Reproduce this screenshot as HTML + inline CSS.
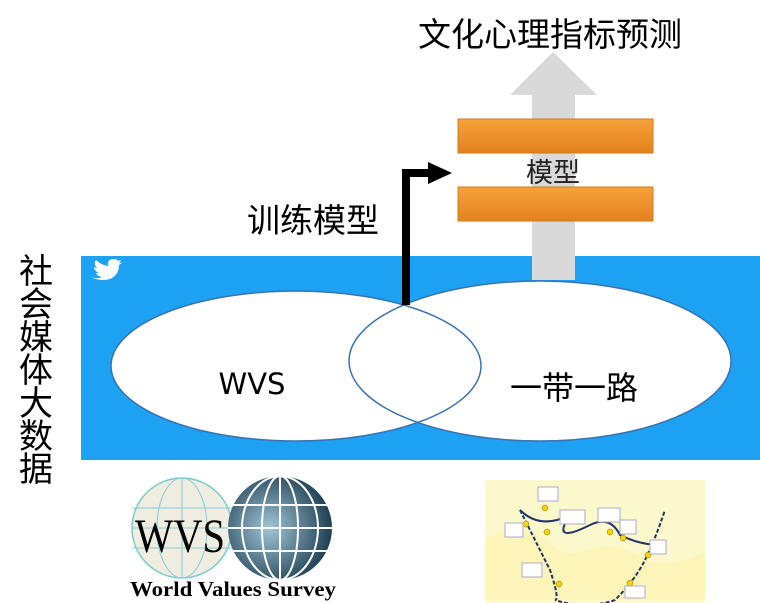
<!DOCTYPE html>
<html><head><meta charset="utf-8"><style>
body{margin:0;width:760px;height:603px;overflow:hidden;background:#fff;font-family:"Liberation Sans","Noto Sans CJK SC",sans-serif;}
</style></head><body>
<svg width="760" height="603" viewBox="0 0 760 603" xmlns="http://www.w3.org/2000/svg" style="position:absolute;left:0;top:0">
<defs>
<linearGradient id="og" x1="0" y1="0" x2="0" y2="1"><stop offset="0" stop-color="#f6a23a"/><stop offset="1" stop-color="#e2821e"/></linearGradient>
<radialGradient id="gl" cx="0.4" cy="0.5" r="0.6"><stop offset="0" stop-color="#9fc6d6"/><stop offset="1" stop-color="#1f3f52"/></radialGradient>
</defs>
<rect x="81" y="256" width="679" height="204" fill="#1da1f2"/>
<g fill="#fff">
<path d="M88 276 q8 4 14 1 q-5 -1 -6 -4 q2 0 3 0 q-5 -2 -5 -6 q1 1 3 1 q-4 -4 -1 -8 q5 5 12 6 q-1 -7 6 -7 q3 0 4 2 q2 -1 3 -1 q-1 2 -2 3 q2 0 3 -1 q-1 2 -3 3 q0 10 -9 14 q-10 3 -22 -3z"/>
</g>
<polygon points="532,280 532,95 510,95 553,52 597,95 575,95 575,280" fill="#d9d9d9"/>
<rect x="458" y="119" width="195" height="34" fill="url(#og)" stroke="#d07a20" stroke-width="1"/>
<rect x="458" y="187" width="195" height="34" fill="url(#og)" stroke="#d07a20" stroke-width="1"/>
<ellipse cx="296" cy="366" rx="185" ry="75" fill="#fff"/>
<ellipse cx="540" cy="361" rx="191" ry="80" fill="#fff"/>
<ellipse cx="296" cy="366" rx="185" ry="75" fill="none" stroke="#3a72b0" stroke-width="1.5"/>
<ellipse cx="540" cy="361" rx="191" ry="80" fill="none" stroke="#3a72b0" stroke-width="1.5"/>
<polyline points="406,305 406,173 430,173" fill="none" stroke="#000" stroke-width="8"/>
<polygon points="428,162 452,173 428,184" fill="#000"/>
<text x="553" y="182" font-size="27" text-anchor="middle" fill="#222" font-family="Liberation Sans,Noto Sans CJK SC,sans-serif">模型</text>
<text x="550" y="46" font-size="33" text-anchor="middle" font-family="Liberation Sans,Noto Sans CJK SC,sans-serif">文化心理指标预测</text>
<text x="313" y="232" font-size="33" text-anchor="middle" font-family="Liberation Sans,Noto Sans CJK SC,sans-serif">训练模型</text>
<text x="252" y="394" font-size="29" text-anchor="middle" font-family="DejaVu Sans,sans-serif">WVS</text>
<text x="574" y="399" font-size="32" text-anchor="middle" font-family="Liberation Sans,Noto Sans CJK SC,sans-serif">一带一路</text>
<g font-size="34" font-family="Liberation Sans,Noto Sans CJK SC,sans-serif" text-anchor="middle">
<text x="36" y="283">社</text><text x="36" y="316">会</text><text x="36" y="349">媒</text><text x="36" y="382">体</text><text x="36" y="415">大</text><text x="36" y="448">数</text><text x="36" y="481">据</text>
</g>
<!-- WVS logo -->
<circle cx="182" cy="528" r="50" fill="#efece0" stroke="#7cc" stroke-width="1.5"/>
<g stroke="#8cd" stroke-width="1" fill="none">
<line x1="132" y1="508" x2="232" y2="508"/><line x1="132" y1="528" x2="232" y2="528"/><line x1="132" y1="548" x2="232" y2="548"/>
<ellipse cx="182" cy="528" rx="25" ry="50"/><line x1="182" y1="478" x2="182" y2="578"/>
</g>
<circle cx="280" cy="528" r="52" fill="url(#gl)"/>
<g stroke="#fff" stroke-width="2" fill="none">
<line x1="228" y1="505" x2="332" y2="505"/><line x1="228" y1="528" x2="332" y2="528"/><line x1="228" y1="551" x2="332" y2="551"/>
<ellipse cx="280" cy="528" rx="18" ry="52"/><ellipse cx="280" cy="528" rx="38" ry="52"/><line x1="280" y1="476" x2="280" y2="580"/>
</g>
<text x="135" y="552" font-size="48" font-family="Liberation Serif,serif" textLength="90" lengthAdjust="spacingAndGlyphs">WVS</text>
<text x="130" y="596" font-size="21" font-weight="bold" font-family="Liberation Serif,serif" textLength="206" lengthAdjust="spacingAndGlyphs">World Values Survey</text>
<!-- map -->
<rect x="485" y="480" width="220" height="120" fill="#fbf8cc"/>
<path d="M485 540 q30 -20 60 0 q20 20 40 10 q30 -10 60 10 q30 10 60 -10 v60 h-220z" fill="#fff3a8" opacity="0.6"/>
<path d="M520 510 q20 20 50 5 q-20 30 20 10 q20 -10 30 10 q20 10 40 10" fill="none" stroke="#223366" stroke-width="2"/>
<path d="M520 510 q20 40 30 60 q10 30 5 30 q30 10 60 0 q20 -20 30 -40 q10 -20 20 -50" fill="none" stroke="#223366" stroke-width="2" stroke-dasharray="4 2"/>
<g fill="#f5d400" stroke="#886600" stroke-width="0.5"><circle cx="545" cy="508" r="3"/><circle cx="526" cy="524" r="3"/><circle cx="547" cy="532" r="3"/><circle cx="610" cy="532" r="3"/><circle cx="623" cy="538" r="3"/><circle cx="648" cy="555" r="3"/><circle cx="630" cy="583" r="3"/><circle cx="559" cy="584" r="3"/></g>
<g fill="#fff" stroke="#aac"><rect x="538" y="487" width="20" height="14"/><rect x="505" y="523" width="18" height="14"/><rect x="560" y="510" width="25" height="14"/><rect x="598" y="508" width="22" height="14"/><rect x="620" y="520" width="16" height="14"/><rect x="650" y="540" width="16" height="14"/><rect x="522" y="563" width="20" height="14"/><rect x="625" y="586" width="20" height="12"/></g>
</svg>
</body></html>
